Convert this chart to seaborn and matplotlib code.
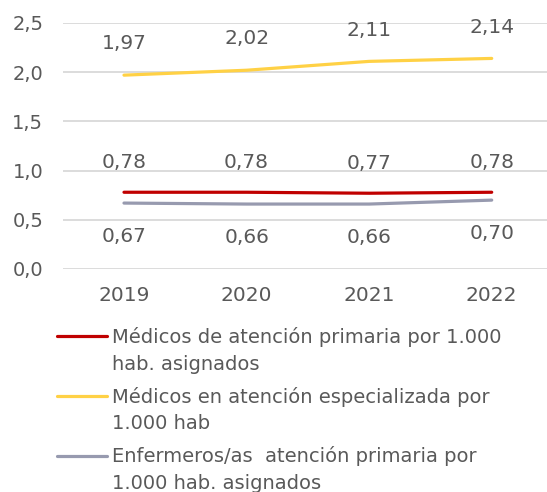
import numpy as np
import pandas as pd
import matplotlib
matplotlib.use("Agg")
import matplotlib.pyplot as plt
import seaborn as sns
from matplotlib.legend_handler import HandlerLine2D

years = ["2019", "2020", "2021", "2022"]
series_names = [
    "Médicos de atención primaria por 1.000\nhab. asignados",
    "Médicos en atención especializada por\n1.000 hab",
    "Enfermeros/as  atención primaria por\n1.000 hab. asignados",
]
medicos_ap = [0.78, 0.78, 0.77, 0.78]
medicos_ae = [1.97, 2.02, 2.11, 2.14]
enfermeros_ap = [0.67, 0.66, 0.66, 0.70]
colors = ["#C00000", "#FFD145", "#979AAF"]
label_offsets = [21.5, 22.5, -24]

sns.set_theme(style="white")
plt.rcParams["font.family"] = ["DejaVu Sans"]
TXT = "#595959"
FS = 14.5

df = pd.DataFrame({
    "year": years * 3,
    "value": medicos_ap + medicos_ae + enfermeros_ap,
    "serie": [series_names[0]] * 4 + [series_names[1]] * 4 + [series_names[2]] * 4,
})

fig = plt.figure(figsize=(5.47, 4.92), dpi=100)
ax = fig.add_axes([62.7 / 547, 223 / 492, (553 - 62.7) / 547, 246 / 492])

sns.lineplot(data=df, x="year", y="value", hue="serie", hue_order=series_names,
             palette=colors, linewidth=2.3, ax=ax, legend=True, sort=False)

for name, vals, off in zip(series_names, [medicos_ap, medicos_ae, enfermeros_ap], label_offsets):
    for i, v in enumerate(vals):
        ax.annotate(f"{v:.2f}".replace(".", ","), (i, v), xytext=(0, off),
                    textcoords="offset points", ha="center", va="center",
                    fontsize=FS, color=TXT)

ax.set_xlim(-0.5, 3.5)
ax.set_ylim(0, 2.5)
ax.set_yticks([0, 0.5, 1.0, 1.5, 2.0, 2.5])
ax.set_yticklabels([f"{t:.1f}".replace(".", ",") for t in [0, 0.5, 1.0, 1.5, 2.0, 2.5]])
ax.grid(axis="y", color="#D9D9D9", linewidth=1.3)
ax.grid(axis="x", visible=False)
ax.set_axisbelow(True)
for s in ax.spines.values():
    s.set_visible(False)
ax.tick_params(axis="y", length=0, pad=14, labelsize=14, labelcolor=TXT)
ax.tick_params(axis="x", length=0, pad=12, labelsize=FS, labelcolor=TXT)
ax.set_xlabel("")
ax.set_ylabel("")

handles, labels = ax.get_legend_handles_labels()
ax.get_legend().remove()


class FirstLineHandler(HandlerLine2D):
    def create_artists(self, legend, orig_handle, xdescent, ydescent, width, height, fontsize, trans):
        arts = super().create_artists(legend, orig_handle, xdescent, ydescent, width, height, fontsize, trans)
        for a in arts:
            a.set_ydata(np.asarray(a.get_ydata(), dtype=float) + 10.5)
        return arts


leg = fig.legend(handles, labels, loc="upper left", bbox_to_anchor=(57 / 547, 1 - 327 / 492),
                 frameon=False, fontsize=14, labelcolor=TXT, handlelength=2.55,
                 handletextpad=0.3, labelspacing=0.68, borderaxespad=0, borderpad=0,
                 handler_map={h: FirstLineHandler() for h in handles})
for t in leg.get_texts():
    t.set_linespacing(1.5)

fig.savefig("out.png", dpi=100)
